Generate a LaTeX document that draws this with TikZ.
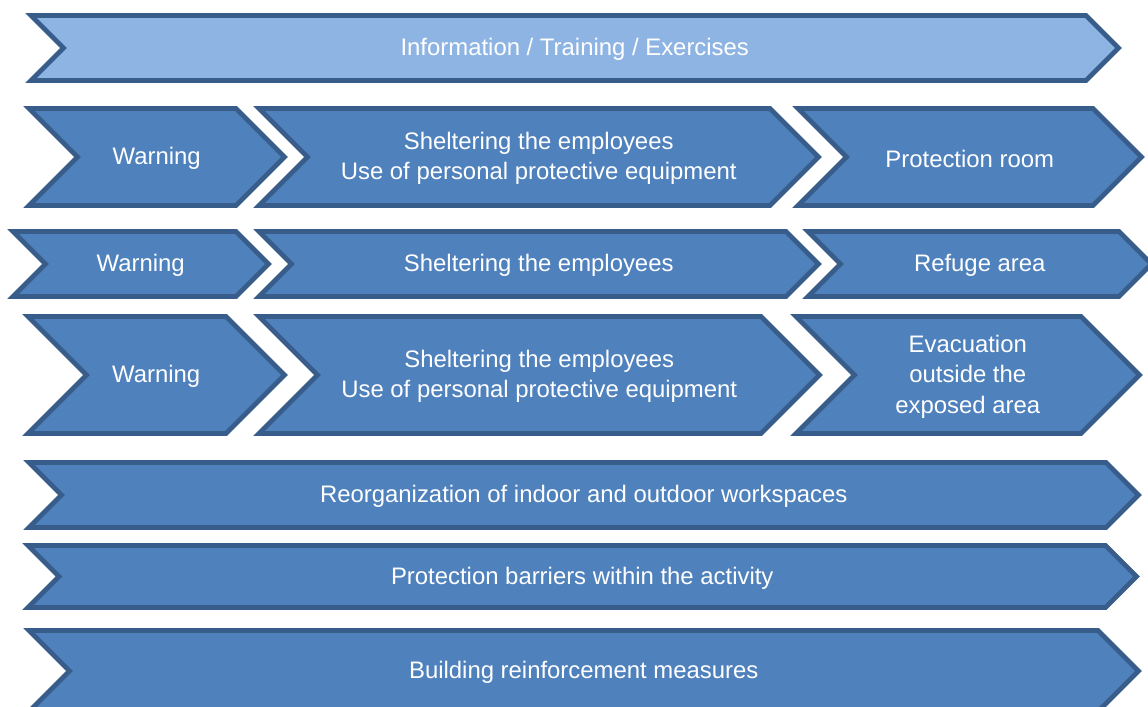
\documentclass[tikz,border=0pt]{standalone}
\usepackage{fontspec}
\setmainfont{Liberation Sans}
\usepackage{tikz}
\definecolor{chevdark}{HTML}{4F81BD}
\definecolor{chevlight}{HTML}{8EB4E3}
\definecolor{chevline}{HTML}{385D8A}

% chevron: [style]{name}{left x}{corner x}{top y}{bottom y}{text}
\newcommand{\chevbox}[7][dark]{%
  \pgfmathsetmacro{\chd}{(#6-#5)/2}%
  \pgfmathsetmacro{\chm}{(#6+#5)/2}%
  \draw[#1] (#3,#5) -- (#4,#5) -- (#4+\chd,\chm) -- (#4,#6) -- (#3,#6) -- (#3+\chd,\chm) -- cycle;
  \node[txt] (#2) at ({(#3+#4+\chd)/2},\chm) {#7};
}

\begin{document}
\begin{tikzpicture}[x=0.02cm, y=-0.02cm,
    dark/.style={draw=chevline, fill=chevdark, line width=0.095cm},
    light/.style={draw=chevline, fill=chevlight, line width=0.095cm},
    txt/.style={text=white, align=center, yshift=-0.03cm, font=\fontsize{13.6}{17.4}\selectfont}]
    \useasboundingbox (0,0) rectangle (1148,706);
    \clip (0,0) rectangle (1148,706);

    % top band
    \chevbox[light]{info}{31}{1086}{15.5}{80.5}{Information / Training / Exercises}

    % row 1
    \chevbox{warnA}{29}{236}{108.5}{205.5}{Warning}
    \chevbox{shelterA}{259}{770}{108.5}{205.5}{Sheltering the employees\\Use of personal protective equipment}
    \chevbox{room}{798}{1093}{108.5}{205.5}{Protection room}

    % row 2
    \chevbox{warnB}{13}{236}{231.5}{296.5}{Warning}
    \chevbox{shelterB}{259}{786}{231.5}{296.5}{Sheltering the employees}
    \chevbox{refuge}{808}{1119}{231.5}{296.5}{Refuge area}

    % row 3
    \chevbox{warnC}{28}{226}{316.5}{433.5}{Warning}
    \chevbox{shelterC}{259}{761}{316.5}{433.5}{Sheltering the employees\\Use of personal protective equipment}
    \chevbox{evac}{796}{1081}{316.5}{433.5}{Evacuation\\outside the\\exposed area}

    % bottom bands
    \chevbox{reorg}{29}{1106}{462.5}{527.5}{Reorganization of indoor and outdoor workspaces}
    \chevbox{barrier}{28}{1105.5}{545.5}{607.5}{Protection barriers within the activity}
    \chevbox{reinforce}{29}{1098}{630.5}{711.5}{Building reinforcement measures}
\end{tikzpicture}
\end{document}
